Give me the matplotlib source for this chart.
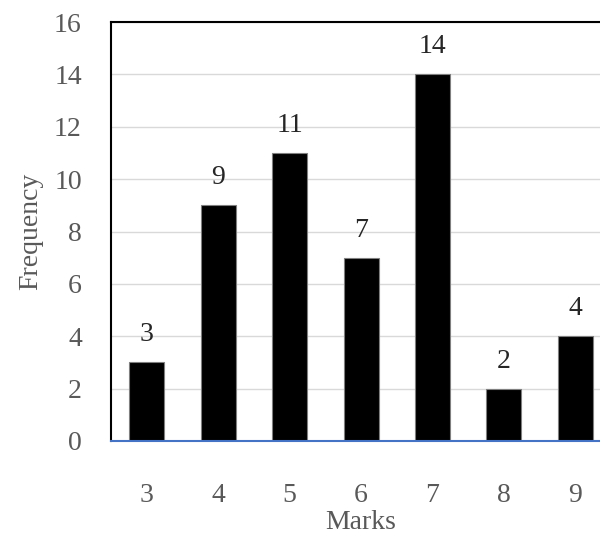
import matplotlib.pyplot as plt

marks = ['3', '4', '5', '6', '7', '8', '9']
frequency = [3, 9, 11, 7, 14, 2, 4]

plt.rcParams['font.family'] = ['Liberation Serif', 'DejaVu Serif']

fig = plt.figure(figsize=(6, 5.4), dpi=100)
# axes runs a little past the right edge of the picture
ax = fig.add_axes([111 / 600, 1 - 441 / 540, 500 / 600, 419 / 540])

x = range(len(marks))
ax.bar(x, frequency, width=0.49, color='black', edgecolor='#7f7f7f', linewidth=0.8, zorder=3)
for i, v in enumerate(frequency):
    ax.text(i, v + 1.05, str(v), ha='center', va='center', fontsize=20, color='#262626')

ax.set_xlim(-0.5, len(marks) - 0.5)
ax.set_ylim(0, 16)
ax.set_yticks(range(0, 17, 2))
ax.set_xticks(list(x))
ax.set_xticklabels(marks)
ax.yaxis.grid(True, color='#d9d9d9', linewidth=1.0, zorder=0)
ax.set_axisbelow(True)

ax.tick_params(axis='both', length=0, labelsize=20, labelcolor='#595959')
ax.tick_params(axis='x', pad=30)
ax.tick_params(axis='y', pad=21)

ax.spines['left'].set_color('black')
ax.spines['left'].set_linewidth(1.5)
ax.spines['top'].set_color('black')
ax.spines['top'].set_linewidth(1.5)
ax.spines['right'].set_visible(False)
ax.spines['bottom'].set_color('#4472c4')
ax.spines['bottom'].set_linewidth(1.5)
ax.spines['bottom'].set_zorder(4)

ax.set_xlabel('Marks', fontsize=20, color='#595959', labelpad=1.5)
ax.set_ylabel('Frequency', fontsize=20, color='#595959', labelpad=8)

fig.savefig('out.png', dpi=100)
